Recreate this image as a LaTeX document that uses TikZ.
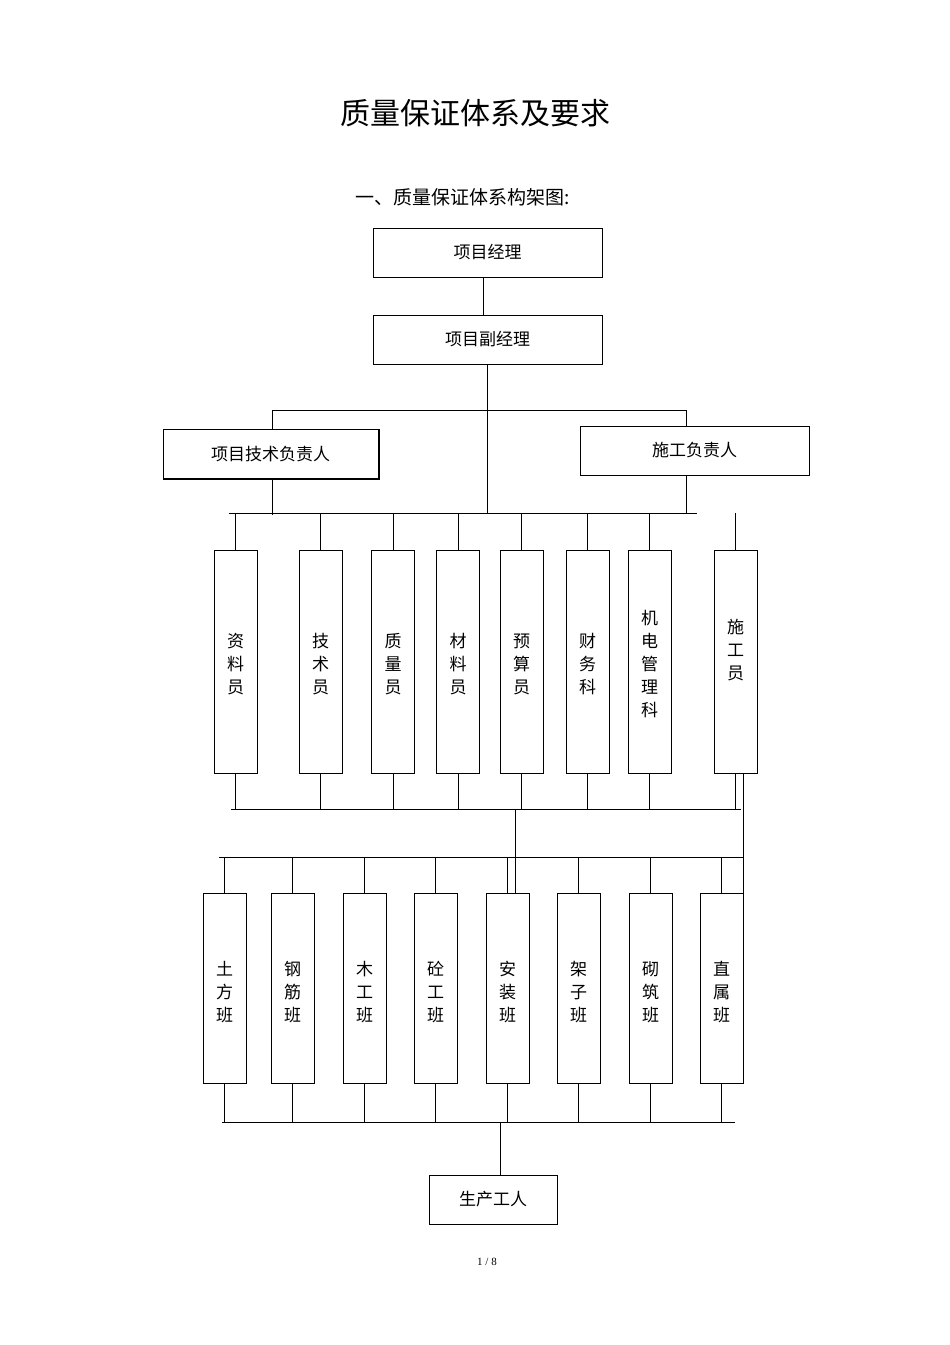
\documentclass[tikz,border=0pt]{standalone}
\usepackage{fontspec}
\setmainfont{Liberation Serif}
\newfontfamily\cjk{Noto Sans CJK SC}
\begin{document}
\begin{tikzpicture}[x=1pt,y=-1pt,line width=1pt,
  hbox/.style={draw,minimum width=#1,minimum height=49pt,inner sep=0pt,font=\cjk\fontsize{17}{20}\selectfont},
  vbox/.style={draw,minimum width=43pt,inner sep=0pt,font=\cjk\fontsize{17}{23}\selectfont,align=center,text depth=0pt}]
\useasboundingbox (0,0) rectangle (950,1345);
\node[font=\cjk\fontsize{30}{34}\selectfont] (t) at (475,113) {质量保证体系及要求};
\node[font=\cjk\fontsize{19}{22}\selectfont] (s) at (463,197) {一、质量保证体系构架图:};
\node[hbox=229pt] (pm) at (487.5,252.5) {项目经理};
\node[hbox=229pt] (pd) at (487.5,339.5) {项目副经理};
\node[hbox=215pt] (tech) at (270.5,454) {项目技术负责人};
\draw[line width=2pt] (tech.north east) -- (tech.south east) -- (tech.south west);
\node[hbox=229pt] (con) at (694.5,450.5) {施工负责人};
\draw (483,277) -- (483,315);
\draw (487,364) -- (487,513);
\coordinate (h1) at (272,410); \coordinate (h2) at (686,410);
\draw (h1) -- (h2);
\draw (h1) -- (tech.north -| h1);
\draw (h2) -- (con.north -| h2);
\draw (tech.south -| h1) -- (272,515);
\draw (con.south -| h2) -- (686,513);
\draw (229,513) -- (697,513);
% row 1
\foreach \n/\x/\t in {a/235.5/资\\料\\员, b/320.5/技\\术\\员, c/393/质\\量\\员, d/458/材\\料\\员, e/521.5/预\\算\\员, f/587.5/财\\务\\科, g/649.5/机\\电\\管\\理\\科, h/735.5/施\\工\\员}{
  \node[vbox,minimum height=223pt] (\n) at (\x,661.5) {};
  \draw (\x,513) -- (\n.north);
  \draw (\n.south) -- (\x,809);
}
\foreach \n/\t/\y in {a/资\\料\\员/664, b/技\\术\\员/664, c/质\\量\\员/664, d/材\\料\\员/664, e/预\\算\\员/664, f/财\\务\\科/664, g/机\\电\\管\\理\\科/664, h/施\\工\\员/650}
  \node[font=\cjk\fontsize{17}{23}\selectfont,align=center] at (\n.center |- 0,\y) {\t};
\draw (231,809) -- (741,809);
\draw (515,809) -- (515,893);
\draw (743,773) -- (743,893);
\draw (219,857) -- (743,857);
% row 2
\foreach \n/\x in {r1/224.5, r2/292.5, r3/364.5, r4/435.5, r5/507.5, r6/578.5, r7/650.5, r8/721.5}{
  \node[vbox,minimum height=190pt] (\n) at (\x,988) {};
  \draw (\x,857) -- (\n.north);
  \draw (\n.south) -- (\x,1122);
}
\foreach \n/\t in {r1/土\\方\\班, r2/钢\\筋\\班, r3/木\\工\\班, r4/砼\\工\\班, r5/安\\装\\班, r6/架\\子\\班, r7/砌\\筑\\班, r8/直\\属\\班}
  \node[font=\cjk\fontsize{17}{23}\selectfont,align=center] at (\n.center |- 0,992) {\t};
\draw (222,1122) -- (735,1122);
\node[hbox=128pt] (w) at (493,1199.5) {生产工人};
\draw (500,1122) -- (500,1175);
\node[font=\fontsize{11}{13}\selectfont] (pg) at (487,1262) {1 / 8};
\end{tikzpicture}
\end{document}
